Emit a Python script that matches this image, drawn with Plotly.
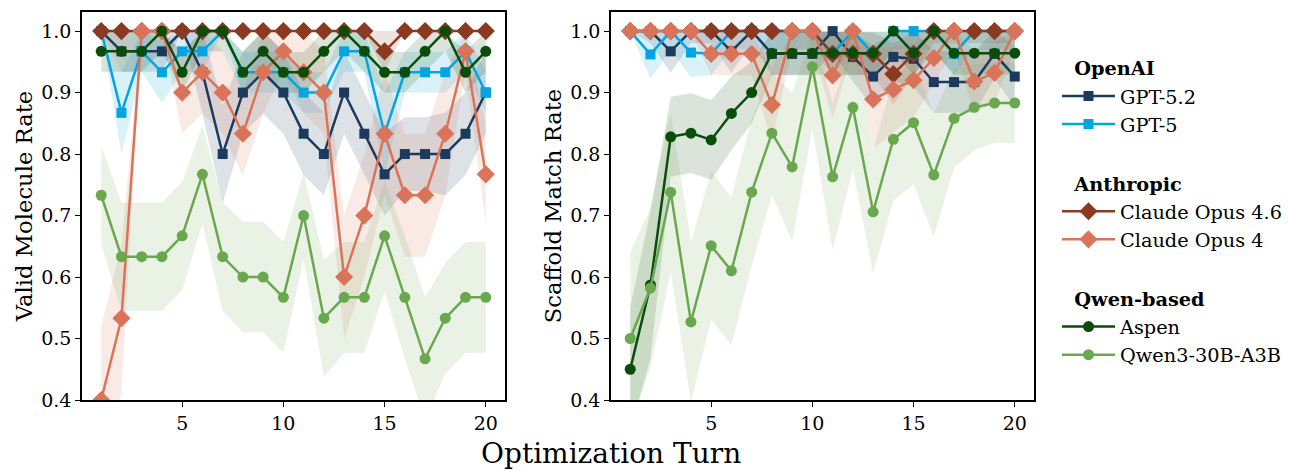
import numpy as np
import plotly.graph_objects as go

turns = list(range(1, 21))

# ---- Left panel: Valid Molecule Rate ----
valid_gpt52 = [1.0, .967, .967, .967, 1.0, .933, .8, .9, .933, .9, .833, .8, .9, .833, .767, .8, .8, .8, .833, .9]
valid_gpt52_err = [0, .033, .033, .033, 0, .067, .08, .067, .067, .067, .067, .067, .067, .067, .067, .06, .06, .067, .067, .067]
valid_gpt5 = [1.0, .867, .967, .933, .967, .967, 1.0, .933, .933, .933, .9, .9, .967, .967, .833, .933, .933, .933, .967, .9]
valid_gpt5_err = [0, .067, .033, .05, .033, .033, 0, .033, .033, .033, .033, .033, .033, .033, .067, .033, .033, .033, .033, .033]
valid_opus46 = [1.0] * 14 + [.967] + [1.0] * 5
valid_opus46_err = [0] * 14 + [.033] + [0] * 5
valid_opus4 = [.4, .533, 1.0, 1.0, .9, .933, .9, .833, .933, .967, .933, .9, .6, .7, .833, .733, .733, .833, .967, .767]
valid_opus4_err = [.12, .12, 0, 0, .067, .067, .067, .067, .067, .033, .067, .067, .1, .1, .1, .1, .1, .1, .033, .08]
valid_aspen = [.967, .967, .967, 1.0, .933, 1.0, 1.0, .933, .967, .933, .933, .967, 1.0, .967, .933, .933, .967, 1.0, .933, .967]
valid_aspen_err = [.033] * 20
valid_qwen = [.733, .633, .633, .633, .667, .767, .633, .6, .6, .567, .7, .533, .567, .567, .667, .567, .467, .533, .567, .567]
valid_qwen_err = [.08, .088, .088, .088, .088, .08, .088, .09, .09, .09, .07, .095, .09, .09, .09, .1, .1, .09, .09, .09]

# ---- Right panel: Scaffold Match Rate ----
scaf_gpt52 = [1.0, 1.0, .967, 1.0, 1.0, .967, 1.0, .963, .963, .963, 1.0, .958, .926, .958, .955, .917, .917, .917, .963, .926]
scaf_gpt52_err = [0, .02, .035, .02, .02, .035, .02, .035, .035, .035, .035, .04, .05, .04, .045, .05, .05, .05, .04, .05]
scaf_gpt5 = [1.0, .962, 1.0, .965, .963, 1.0, 1.0, 1.0, 1.0, 1.0, .963, 1.0, .963, 1.0, 1.0, 1.0, .963, 1.0, 1.0, 1.0]
scaf_gpt5_err = [0, .04, .03, .04, .035, .03, .03, .03, .03, .03, .035, .03, .035, .03, .03, .03, .035, .03, .03, .03]
scaf_opus46 = [1.0] * 10 + [.963, .963, .963, .93, .963] + [1.0] * 5
scaf_opus46_err = [0] * 10 + [.035, .035, .035, .05, .035] + [.02] * 5
scaf_opus4 = [1.0, 1.0, 1.0, 1.0, .963, .963, .963, .88, 1.0, 1.0, .928, 1.0, .889, .905, .92, .956, 1.0, .918, .932, 1.0]
scaf_opus4_err = [0, 0, 0, 0, .035, .035, .035, .06, .03, .03, .07, .03, .08, .07, .06, .04, .03, .05, .05, .03]
scaf_aspen = [.45, .587, .828, .834, .823, .866, .9, .964, .964, .964, .964, .964, .964, 1.0, .964, 1.0, .964, .964, .964, .964]
scaf_aspen_err = [.1, .12, .065, .065, .065, .06, .05, .035, .035, .035, .035, .035, .035, .035, .035, .035, .035, .035, .035, .035]
scaf_qwen = [.5, .582, .738, .527, .651, .61, .738, .834, .779, .942, .763, .876, .706, .824, .851, .766, .858, .876, .883, .883]
scaf_qwen_err = [.14, .13, .13, .13, .12, .12, .12, .1, .12, .1, .12, .1, .1, .1, .1, .1, .08, .07, .065, .065]

series = [
    # name, group, color, symbol, size, left vals, left err, right vals, right err
    ("GPT-5.2", "OpenAI", "#1b3a5c", "square", 10, valid_gpt52, valid_gpt52_err, scaf_gpt52, scaf_gpt52_err),
    ("GPT-5", "OpenAI", "#03a5e0", "square", 10, valid_gpt5, valid_gpt5_err, scaf_gpt5, scaf_gpt5_err),
    ("Claude Opus 4.6", "Anthropic", "#8b3a21", "diamond", 14, valid_opus46, valid_opus46_err, scaf_opus46, scaf_opus46_err),
    ("Claude Opus 4", "Anthropic", "#d9745a", "diamond", 14, valid_opus4, valid_opus4_err, scaf_opus4, scaf_opus4_err),
    ("Aspen", "Qwen-based", "#0a4d0a", "circle", 11, valid_aspen, valid_aspen_err, scaf_aspen, scaf_aspen_err),
    ("Qwen3-30B-A3B", "Qwen-based", "#6aa84f", "circle", 11, valid_qwen, valid_qwen_err, scaf_qwen, scaf_qwen_err),
]


def rgba(hexc, a):
    h = hexc.lstrip("#")
    r, g, b = int(h[0:2], 16), int(h[2:4], 16), int(h[4:6], 16)
    return f"rgba({r},{g},{b},{a})"


fig = go.Figure()
x = np.array(turns)
# bands first
for name, grp, col, sym, sz, lv, le, rv, re in series:
    for vals, errs, xa, ya in [(lv, le, "x", "y"), (rv, re, "x2", "y2")]:
        v = np.array(vals)
        e = np.array(errs)
        up = np.minimum(v + e, 1.0)
        lo = v - e
        fig.add_trace(go.Scatter(
            x=np.concatenate([x, x[::-1]]), y=np.concatenate([up, lo[::-1]]),
            fill="toself", fillcolor=rgba(col, 0.15), line=dict(width=0),
            mode="lines", hoverinfo="skip", showlegend=False, xaxis=xa, yaxis=ya))

for name, grp, col, sym, sz, lv, le, rv, re in series:
    for vals, xa, ya, show in [(lv, "x", "y", True), (rv, "x2", "y2", False)]:
        fig.add_trace(go.Scatter(
            x=turns, y=vals, mode="lines+markers", name=name,
            legendgroup=grp,
            legendgrouptitle=dict(text="\u00a0\u00a0" + f"<b>{grp}</b>") if show else None,
            line=dict(color=col, width=2.5),
            marker=dict(symbol=sym, size=sz, color=col, line=dict(width=0)),
            showlegend=show, xaxis=xa, yaxis=ya))

# pixel layout: paper spans x 82..1290, y 12..400
W0 = 1290 - 82


def px(v):
    return (v - 82) / W0


font = "DejaVu Serif"
axis_common = dict(
    showline=True, mirror=True, linecolor="black", linewidth=1.5,
    ticks="outside", ticklen=5, tickwidth=1.2, tickcolor="black",
    showgrid=False, zeroline=False, tickfont=dict(family=font, size=19, color="black"),
)
fig.update_layout(
    width=1290, height=471,
    margin=dict(l=82, r=0, t=12, b=71),
    plot_bgcolor="white", paper_bgcolor="white",
    font=dict(family=font, color="black"),
    xaxis=dict(domain=[0, px(505)], range=[0.05, 20.95], tickvals=[5, 10, 15, 20], **axis_common),
    xaxis2=dict(domain=[px(611), px(1034)], range=[0.05, 20.95], tickvals=[5, 10, 15, 20], anchor="y2", **axis_common),
    yaxis=dict(range=[0.4, 1.031], tickvals=[0.4, 0.5, 0.6, 0.7, 0.8, 0.9, 1.0], tickformat=".1f",
               title=dict(text="Valid Molecule Rate", font=dict(family=font, size=22.7), standoff=2), **axis_common),
    yaxis2=dict(range=[0.4, 1.031], tickvals=[0.4, 0.5, 0.6, 0.7, 0.8, 0.9, 1.0], tickformat=".1f", anchor="x2",
                title=dict(text="Scaffold Match Rate", font=dict(family=font, size=22.7), standoff=2), **axis_common),
    legend=dict(x=px(1057), y=0.905, xanchor="left", yanchor="top", font=dict(family=font, size=19.3),
                itemwidth=53, tracegroupgap=31, grouptitlefont=dict(family=font, size=19.3),
                bgcolor="rgba(0,0,0,0)"),
    annotations=[dict(text="Optimization Turn", x=px(611), y=-0.137, xref="paper", yref="paper",
                      xanchor="center", yanchor="middle", showarrow=False,
                      font=dict(family=font, size=28))],
)

fig.write_html("out.html")
